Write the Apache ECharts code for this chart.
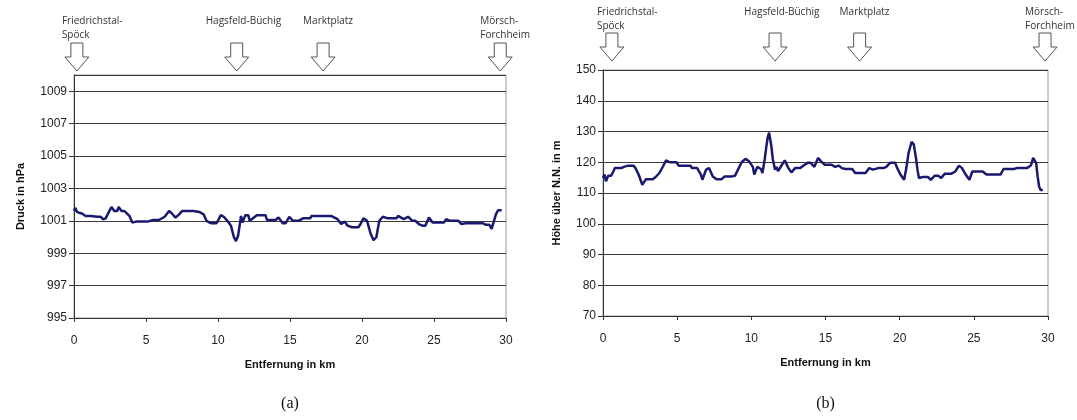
<!DOCTYPE html>
<html>
<head>
<meta charset="utf-8">
<script src="https://cdn.jsdelivr.net/npm/echarts@6/dist/echarts.min.js"></script>
<style>
  html, body { margin: 0; padding: 0; background: #fff; }
  #chart { width: 1077px; height: 420px; }
</style>
</head>
<body>
<div id="chart"></div>
<script>
// Luftdruck entlang der Strecke: [Entfernung km, Druck hPa]
const druckKm = [0, 0.1, 0.2, 0.35, 0.55, 0.8, 1.2, 1.6, 1.85, 2.0, 2.2, 2.45, 2.6, 2.8, 3.0, 3.1, 3.3, 3.5, 3.6, 3.85, 4.05, 4.3, 4.7, 5.1, 5.5, 5.9, 6.3, 6.6, 6.8, 7.05, 7.3, 7.5, 7.9, 8.3, 8.7, 9.0, 9.2, 9.5, 9.9, 10.2, 10.4, 10.65, 10.9, 11.1, 11.25, 11.4, 11.6, 11.7, 11.9, 12.1, 12.2, 12.5, 12.7, 13.0, 13.3, 13.4, 13.7, 14.0, 14.2, 14.5, 14.7, 14.95, 15.2, 15.6, 15.9, 16.4, 16.5, 17.0, 17.5, 17.85, 18.3, 18.55, 18.8, 19.0, 19.3, 19.75, 19.9, 20.1, 20.35, 20.6, 20.8, 21.0, 21.2, 21.45, 21.8, 22.1, 22.4, 22.5, 22.9, 23.2, 23.5, 23.7, 23.95, 24.2, 24.4, 24.65, 24.9, 25.3, 25.7, 25.85, 26.1, 26.7, 26.9, 27.2, 27.8, 28.4, 28.6, 28.85, 29.0, 29.1, 29.3, 29.45, 29.7];
const druckHPa = [1001.6, 1001.8, 1001.55, 1001.5, 1001.45, 1001.3, 1001.3, 1001.25, 1001.25, 1001.1, 1001.15, 1001.6, 1001.85, 1001.6, 1001.6, 1001.85, 1001.6, 1001.6, 1001.7, 1001.3, 1000.9, 1000.95, 1000.95, 1000.95, 1001.05, 1001.05, 1001.25, 1001.6, 1001.45, 1001.2, 1001.4, 1001.6, 1001.6, 1001.6, 1001.55, 1001.4, 1001.0, 1000.85, 1000.85, 1001.35, 1001.25, 1001.0, 1000.7, 1000.0, 999.75, 1000.1, 1001.3, 1000.9, 1001.35, 1001.35, 1001.0, 1001.2, 1001.35, 1001.35, 1001.35, 1001.05, 1001.05, 1001.05, 1001.2, 1000.85, 1000.85, 1001.25, 1001.0, 1001.0, 1001.15, 1001.15, 1001.3, 1001.3, 1001.3, 1001.3, 1001.1, 1000.8, 1000.95, 1000.7, 1000.6, 1000.6, 1000.8, 1001.15, 1001.0, 1000.2, 999.8, 1000.0, 1001.0, 1001.25, 1001.15, 1001.15, 1001.15, 1001.3, 1001.1, 1001.25, 1001.0, 1001.0, 1000.8, 1000.7, 1000.7, 1001.2, 1000.9, 1000.9, 1000.9, 1001.1, 1001.0, 1001.0, 1000.8, 1000.85, 1000.85, 1000.85, 1000.75, 1000.75, 1000.5, 1000.5, 1001.4, 1001.65, 1001.65];

// Höhe über N.N. entlang der Strecke: [Entfernung km, Höhe m]
const hoeheKm = [0, 0.1, 0.2, 0.35, 0.55, 0.7, 0.8, 1.25, 1.4, 1.7, 2.05, 2.2, 2.4, 2.65, 2.9, 3.35, 3.55, 3.8, 4.05, 4.25, 4.5, 4.95, 5.1, 5.9, 6.0, 6.35, 6.6, 6.7, 6.95, 7.15, 7.4, 7.65, 8.0, 8.2, 8.7, 8.9, 9.15, 9.35, 9.6, 9.85, 10.1, 10.2, 10.4, 10.65, 10.75, 10.9, 11.0, 11.1, 11.2, 11.35, 11.45, 11.6, 11.7, 11.8, 12.0, 12.25, 12.5, 12.7, 12.95, 13.3, 13.55, 13.8, 14.0, 14.25, 14.5, 14.7, 14.95, 15.4, 15.65, 15.9, 16.1, 16.35, 16.8, 17.0, 17.7, 17.95, 18.2, 18.55, 18.9, 19.1, 19.35, 19.7, 19.8, 20.05, 20.3, 20.45, 20.6, 20.8, 20.95, 21.1, 21.2, 21.3, 21.55, 21.9, 22.1, 22.35, 22.6, 22.8, 23.05, 23.5, 23.75, 24.0, 24.2, 24.45, 24.7, 24.9, 25.6, 25.85, 26.8, 27.0, 27.7, 27.9, 28.6, 28.85, 29.0, 29.2, 29.3, 29.4, 29.5, 29.65];
const hoeheM = [114.9, 116.0, 113.8, 115.6, 115.6, 117.0, 118.1, 118.1, 118.5, 118.9, 118.9, 118.0, 116.0, 112.7, 114.5, 114.5, 115.2, 116.5, 118.7, 120.6, 120.0, 120.0, 118.9, 118.9, 118.1, 118.1, 116.0, 114.3, 117.6, 118.1, 115.4, 114.5, 114.5, 115.4, 115.4, 115.6, 118.1, 120.0, 121.1, 120.3, 118.5, 116.0, 118.5, 117.8, 116.5, 120.9, 124.7, 128.0, 129.6, 125.2, 120.9, 117.6, 118.5, 117.1, 118.7, 120.6, 118.1, 116.7, 118.1, 118.1, 119.0, 119.8, 119.8, 118.5, 121.4, 120.3, 119.2, 119.2, 118.5, 118.9, 118.1, 117.8, 117.8, 116.5, 116.5, 118.1, 117.6, 118.1, 118.1, 118.5, 119.8, 119.8, 118.5, 116.0, 114.3, 118.1, 123.0, 126.6, 125.8, 121.4, 117.6, 114.9, 115.2, 115.2, 114.3, 115.6, 115.6, 114.9, 116.3, 116.3, 117.0, 118.9, 118.1, 116.0, 114.3, 117.0, 117.0, 116.0, 116.0, 117.8, 117.8, 118.1, 118.1, 119.0, 121.4, 119.8, 115.4, 112.1, 111.0, 111.0];

// Achsenbeschriftung
const xTicks = [0, 5, 10, 15, 20, 25, 30];
const druckTicks = [995, 997, 999, 1001, 1003, 1005, 1007, 1009];
const hoeheTicks = [70, 80, 90, 100, 110, 120, 130, 140, 150];

// Haltestellen oberhalb der Diagramme
const stationNames = ['Friedrichstal-\nSpöck', 'Hagsfeld-Büchig', 'Marktplatz', 'Mörsch-\nForchheim'];
const stationKmA = [0.2, 11.3, 17.3, 29.6];
const stationKmB = [0.6, 11.6, 17.3, 29.8];

const pair = (xs, ys) => xs.map((x, i) => [x, ys[i]]);

const chart = echarts.init(document.getElementById('chart'), null, { renderer: 'canvas' });

const tickFont = { color: '#222', fontFamily: 'Liberation Sans, Arial, sans-serif', fontSize: 12 };
const nameFont = { color: '#111', fontFamily: 'Liberation Sans, Arial, sans-serif', fontSize: 11, fontWeight: 'bold' };
const lineCol = '#333';

function xAxisFor(gridIndex) {
  return {
    type: 'value', gridIndex, min: xTicks[0], max: xTicks[xTicks.length - 1], interval: xTicks[1] - xTicks[0],
    name: 'Entfernung in km', nameLocation: 'middle', nameGap: 41, nameTextStyle: nameFont,
    axisLine: { lineStyle: { color: lineCol, width: 1 } },
    axisTick: { show: true, length: 4, lineStyle: { color: lineCol } },
    axisLabel: Object.assign({ margin: 17, formatter: v => String(v) }, tickFont),
    splitLine: { show: false }
  };
}

function yAxisFor(gridIndex, min, max, interval, name, nameGap, showMax) {
  return {
    type: 'value', gridIndex, min, max, interval,
    name, nameLocation: 'middle', nameGap, nameTextStyle: nameFont,
    axisLine: { show: true, lineStyle: { color: lineCol, width: 1 } },
    axisTick: { show: true, length: 5, lineStyle: { color: lineCol } },
    axisLabel: Object.assign({ margin: 7, showMaxLabel: showMax, formatter: v => String(v) }, tickFont),
    splitLine: { show: true, lineStyle: { color: '#3a3a3a', width: 1 } }
  };
}

const seriesStyle = {
  type: 'line', showSymbol: false, smooth: false,
  lineStyle: { color: '#191970', width: 2.5 },
  itemStyle: { color: '#191970' }
};

const option = {
  animation: false,
  backgroundColor: '#fff',
  grid: [
    { left: 74, right: 571, top: 75, bottom: 102, show: true, borderColor: '#9a9a9a', borderWidth: 1, backgroundColor: '#fff' },
    { left: 603, right: 29, top: 70, bottom: 104, show: true, borderColor: '#9a9a9a', borderWidth: 1, backgroundColor: '#fff' }
  ],
  xAxis: [xAxisFor(0), xAxisFor(1)],
  yAxis: [
    yAxisFor(0, druckTicks[0], 1010, 2, 'Druck in hPa', 48, false),
    yAxisFor(1, hoeheTicks[0], hoeheTicks[hoeheTicks.length - 1], 10, 'Höhe über N.N. in m', 41, true)
  ],
  series: [
    Object.assign({ xAxisIndex: 0, yAxisIndex: 0, data: pair(druckKm, druckHPa) }, seriesStyle),
    Object.assign({ xAxisIndex: 1, yAxisIndex: 1, data: pair(hoeheKm, hoeheM) }, seriesStyle)
  ]
};

chart.setOption(option);

// Hohlpfeile und Haltestellennamen über beiden Diagrammen
function arrowShape(cx, top) {
  const sw = 6, hw = 12, sh = 14, hh = 14;
  return [[cx - sw, top], [cx + sw, top], [cx + sw, top + sh], [cx + hw, top + sh],
          [cx, top + sh + hh], [cx - hw, top + sh], [cx - sw, top + sh]];
}
const labelDx = [-15, -31, -20, -20];
const graphics = [];
function addStations(axisIndex, kms, arrowTop, textTop) {
  kms.forEach((km, i) => {
    const cx = chart.convertToPixel({ xAxisIndex: axisIndex }, km);
    graphics.push({
      type: 'polygon', silent: true,
      shape: { points: arrowShape(cx, arrowTop) },
      style: { fill: '#fff', stroke: '#555', lineWidth: 1 }
    });
    graphics.push({
      type: 'text', silent: true, x: cx + labelDx[i], y: textTop,
      style: { text: stationNames[i], fill: '#333', font: '10px "Open Sans", sans-serif', lineHeight: 14, textAlign: 'left', textVerticalAlign: 'top' }
    });
  });
}
addStations(0, stationKmA, 43, 14);
addStations(1, stationKmB, 33, 5);

// Teilbild-Kennzeichnung
[['(a)', 0], ['(b)', 1]].forEach(([t, idx]) => {
  const cx = chart.convertToPixel({ xAxisIndex: idx }, 15);
  graphics.push({
    type: 'text', silent: true, x: cx, y: 404,
    style: { text: t, fill: '#111', font: '16px "Liberation Serif", serif', textAlign: 'center', textVerticalAlign: 'middle' }
  });
});

chart.setOption({ graphic: graphics });
</script>
</body>
</html>
